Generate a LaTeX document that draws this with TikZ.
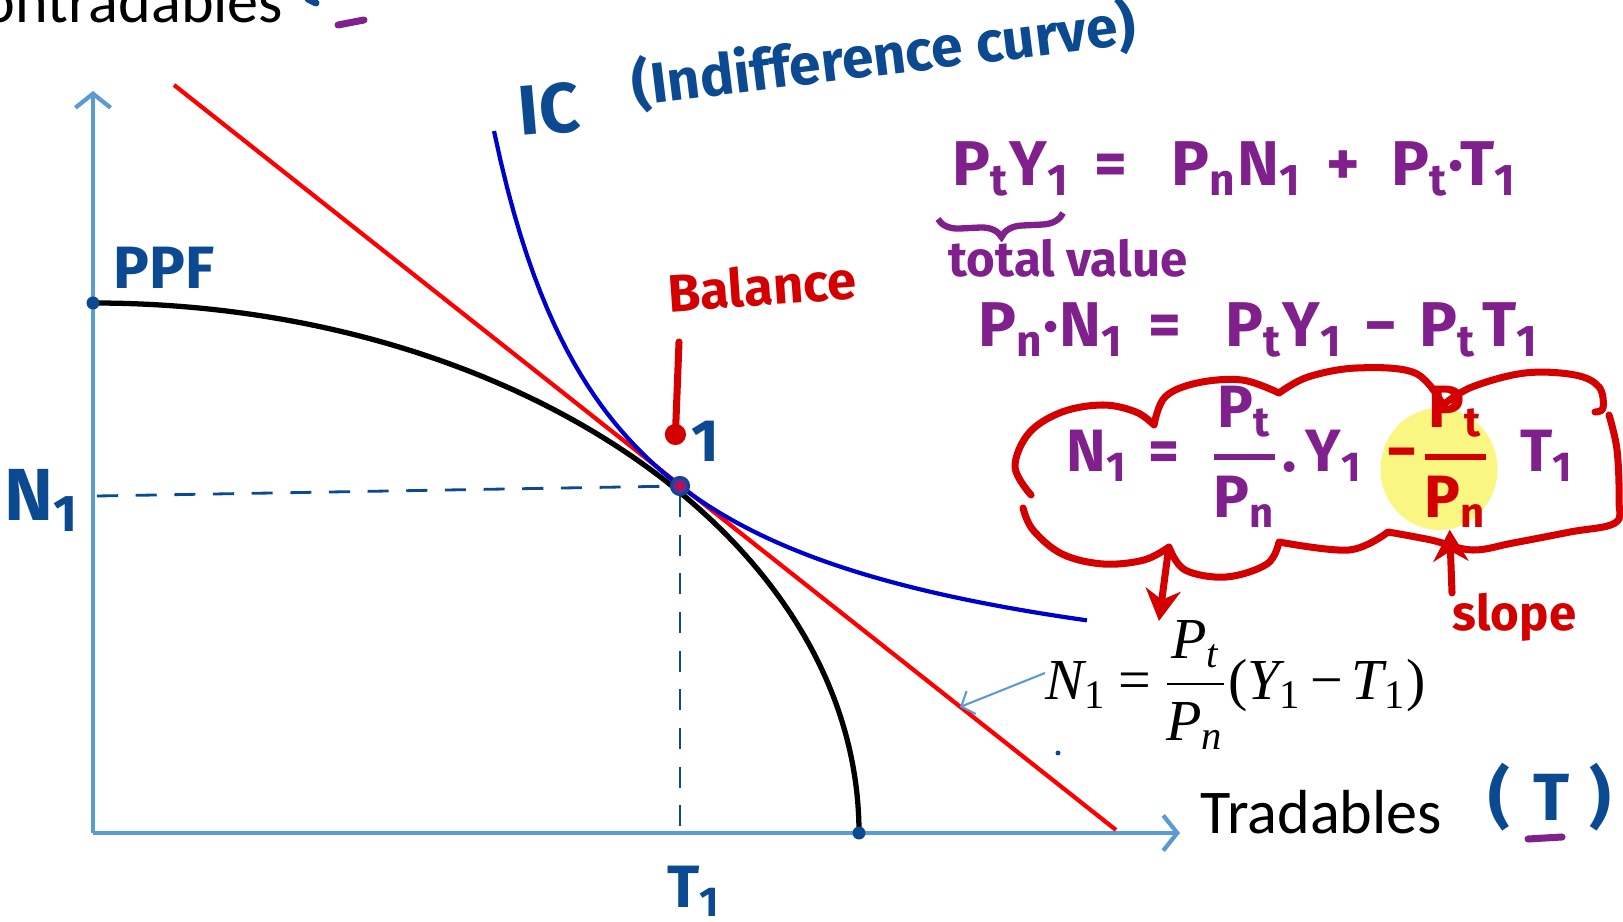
\documentclass[tikz,border=0pt]{standalone}
\usepackage{amsmath}
\usepackage{fontspec}
\setmainfont{Carlito}
\newfontfamily\handfont{Fira Sans}
\newfontfamily\timesfont{Liberation Serif}
\usepackage{tikz}
\usetikzlibrary{arrows.meta,positioning,calc,shapes.geometric,decorations.pathreplacing}

\definecolor{axisblue}{RGB}{91,155,213}
\definecolor{linered}{RGB}{255,0,0}
\definecolor{icblue}{RGB}{0,0,204}
\definecolor{handblue}{RGB}{11,74,145}
\definecolor{handpurple}{RGB}{128,32,140}
\definecolor{handred}{RGB}{212,0,0}
\definecolor{hlyellow}{RGB}{250,246,130}

\newcommand\hfr[2]{$\genfrac{}{}{1.6pt}{0}{\hbox{#1}}{\hbox{#2}}$}
\newcommand\tfr[2]{$\genfrac{}{}{0.6pt}{0}{\hbox{#1}}{\hbox{#2}}$}
\newcommand\vi[1]{{\itshape #1}}

\begin{document}
\begin{tikzpicture}[
    axis/.style={axisblue, line width=1.2pt, -{Straight Barb[length=4pt,width=10pt]}},
    ppf/.style={black, line width=1.5pt},
    budget/.style={linered, line width=1.2pt},
    icurve/.style={icblue, line width=1.2pt},
    guide/.style={handblue, line width=0.8pt, dash pattern=on 6pt off 5pt},
    hand/.style={inner sep=0pt, font=\handfont\bfseries\fontsize{#1}{#1}\selectfont},
    slide/.style={inner sep=0pt, font=\fontsize{17.7}{20}\selectfont},
    enddot/.style={circle, fill=handblue, inner sep=0pt, minimum size=0.13cm},
    tdot/.style={circle, fill=handpurple, draw=handblue, line width=0.9pt, inner sep=0pt, minimum size=0.17cm},
    redarrow/.style={handred, line width=2pt, line cap=round, -{Stealth[length=9pt,width=10pt]}},
    pointer/.style={handred, line width=2pt, line cap=round, -{Circle[length=6pt]}},
    callout/.style={axisblue, line width=0.6pt, -{Straight Barb[length=3pt,width=7pt]}},
    stroke/.style={line width=2pt, line cap=round},
    cloudline/.style={handred, line width=2pt, line cap=round, line join=round}
]
    \useasboundingbox (0,0) rectangle (16.23,9.21);
    \clip (0,0) rectangle (16.23,9.21);

    \node[slide, anchor=base east] (ntlab) at (2.84,8.98) {Nontradables};
    \draw[stroke, handblue] (3.08,9.22) -- (3.16,9.18);
    \draw[stroke, handpurple] (3.38,8.96) -- (3.64,9.01);

    \coordinate (O) at (0.93,0.88);
    \coordinate (ytip) at (0.93,8.30);
    \coordinate (xtip) at (11.80,0.88);
    \draw[axis] (O) -- (ytip);
    \draw[axis] (O) -- (xtip);

    \node[slide, anchor=base west] (tradlab) at (12.00,0.88) {Tradables};
    \node[hand=19, text=handblue] (tpar) at (15.50,1.24) {(\hspace{0.35em}T\hspace{0.3em})};
    \draw[stroke, handpurple] (15.28,0.82) -- (15.62,0.84);

    \coordinate (ppftop) at (0.93,6.18);
    \coordinate (ppfend) at (8.59,0.88);
    \draw[ppf] (ppftop) arc[start angle=90, end angle=0, x radius=7.66, y radius=5.30];
    \node[enddot] at (ppftop) {};
    \node[enddot] at (ppfend) {};

    \coordinate (bl1) at (1.74,8.36);
    \coordinate (bl2) at (11.16,0.91);
    \draw[budget] (bl1) -- (bl2);

    \draw[icurve] plot[domain=4.94:10.87, samples=90] (\x,{1.983+7.3366/(\x-3.7)});

    \coordinate (n1y) at (0.97,4.25);
    \coordinate (t1x) at (6.80,0.92);
    \node[tdot] (E) at (6.80,4.35) {};
    \draw[guide] (n1y) -- (E);
    \draw[guide] (E) -- (t1x);
    \fill[linered] (E) circle (0.025);

    \node[hand=21, text=handblue] (n1lab) at (0.42,4.21) {N\textsubscript{1}};
    \node[hand=17, text=handblue] (t1lab) at (6.94,0.30) {T\textsubscript{1}};
    \node[hand=17, text=handblue] (ppflab) at (1.64,6.53) {PPF};
    \node[hand=20, text=handblue, rotate=5] (iclab) at (5.49,8.12) {IC};
    \node[hand=16.2, text=handblue, rotate=7] (icname) at (8.84,8.66) {(Indifference curve)};
    \node[hand=17, text=handblue] (onelab) at (7.05,4.80) {1};

    \node[hand=15, text=handred, rotate=4] (balance) at (7.62,6.35) {Balance};
    \coordinate (balstart) at (6.79,5.79);
    \coordinate (balend) at (6.75,4.76);
    \draw[pointer] (balstart) -- (balend);

    \node[hand=18, text=handpurple, anchor=base west] (eq1) at (9.52,7.35)
        {P\textsubscript{t}Y\textsubscript{1}\hspace{0.4em}=\hspace{0.7em}P\textsubscript{n}N\textsubscript{1}\hspace{0.4em}+\hspace{0.5em}P\textsubscript{t}·T\textsubscript{1}};
    \draw[handpurple, line width=1.8pt, decorate, decoration={brace, mirror, amplitude=6pt}] (9.38,7.02) -- (10.63,7.08);
    \node[hand=14, text=handpurple] (totval) at (10.68,6.63) {total value};
    \node[hand=18, text=handpurple, anchor=base west] (eq2) at (9.78,5.74)
        {P\textsubscript{n}·N\textsubscript{1}\hspace{0.4em}=\hspace{0.7em}P\textsubscript{t}Y\textsubscript{1}\hspace{0.35em}−\hspace{0.35em}P\textsubscript{t}\hspace{0.1em}T\textsubscript{1}};

    \node[ellipse, fill=hlyellow, minimum width=1.17cm, minimum height=1.22cm] (hl) at (14.39,4.52) {};
    \node[hand=17, text=handpurple, anchor=base west] (eq3) at (10.66,4.49)
        {N\textsubscript{1}\hspace{0.35em}=\hspace{0.5em}\hfr{P\textsubscript{t}}{P\textsubscript{n}}\hspace{0.05em}.\hspace{0.15em}Y\textsubscript{1}\hspace{0.4em}{\color{handred}−\hspace{0.05em}\hfr{P\textsubscript{t}}{P\textsubscript{n}}}\hspace{0.5em}T\textsubscript{1}};

    \draw[cloudline] plot[smooth, tension=0.6] coordinates {(10.31,4.26) (10.15,4.54) (10.29,4.88) (10.62,5.09) (11.03,5.16) (11.36,5.09) (11.54,4.96)}
        plot[smooth, tension=0.6] coordinates {(11.54,4.96) (11.65,5.24) (11.97,5.38) (12.42,5.41) (12.79,5.28)}
        plot[smooth, tension=0.6] coordinates {(12.79,5.28) (13.08,5.44) (13.57,5.53) (14.15,5.48) (14.43,5.16)}
        plot[smooth, tension=0.6] coordinates {(14.43,5.16) (14.72,5.34) (15.25,5.48) (15.75,5.46) (15.99,5.34) (16.03,5.13) (15.95,5.09)};
    \draw[cloudline] plot[smooth, tension=0.6] coordinates {(16.09,5.06) (16.17,4.71) (16.19,4.21) (16.15,3.98) (15.70,3.89) (15.13,3.78) (14.72,3.71) (14.31,3.81) (13.88,3.89)}
        plot[smooth, tension=0.6] coordinates {(13.88,3.89) (13.49,3.71) (12.79,3.79)}
        plot[smooth, tension=0.6] coordinates {(12.79,3.79) (12.67,3.57) (12.26,3.44) (11.85,3.51) (11.69,3.74)}
        plot[smooth, tension=0.6] coordinates {(11.69,3.74) (11.44,3.61) (11.03,3.57) (10.62,3.67) (10.33,3.91) (10.23,4.13)};

    \coordinate (cloudfoot) at (11.68,3.68);
    \coordinate (pdrop) at (11.59,3.00);
    \draw[redarrow] (cloudfoot) -- (pdrop);
    \node[hand=14, text=handred, anchor=base west] (slope) at (14.52,2.90) {slope};
    \draw[redarrow] (slope.north west) -- (hl.-80);

    \node[font=\timesfont\fontsize{16.5}{20}\selectfont, anchor=west, inner sep=0pt] (eqn) at (10.45,2.36)
        {\vi{N}\textsubscript{1}\hspace{0.2em}=\hspace{0.2em}\tfr{\vi{P}\textsubscript{\vi{t}}}{\vi{P}\textsubscript{\vi{n}}}(\vi{Y}\textsubscript{1}\hspace{0.15em}−\hspace{0.15em}\vi{T}\textsubscript{1})};
    \coordinate (bltip) at (9.60,2.14);
    \draw[callout] ([yshift=0.12cm]eqn.west) -- (bltip);
    \fill[handblue] (10.58,1.68) circle (0.025);
\end{tikzpicture}
\end{document}
